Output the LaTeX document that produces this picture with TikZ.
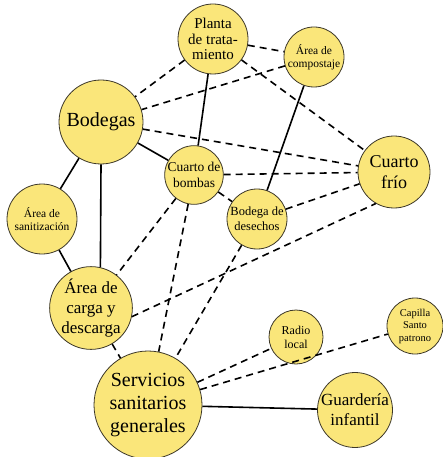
\documentclass[tikz,border=0pt]{standalone}
\usepackage{fontspec}
\setmainfont{Liberation Serif}
\definecolor{circfill}{RGB}{250,230,122}
\definecolor{circline}{RGB}{60,55,40}
\begin{document}
\begin{tikzpicture}[x=1pt,y=-1pt,
  place/.style={circle,draw=circline,line width=0.8pt,fill=circfill,inner sep=0pt,align=center},
  conn/.style={line width=1.6pt,black},
  dconn/.style={conn,dash pattern=on 7pt off 5pt}]
\useasboundingbox (0,0) rectangle (443,457);
% nodes
\node[place,minimum size=70pt,font=\fontsize{15}{15.5}\selectfont] (planta) at (213,39) {Planta\\de trata-\\miento};
\node[place,minimum size=60pt,font=\fontsize{11.5}{13}\selectfont] (compost) at (314,57) {Área de\\compostaje};
\node[place,minimum size=84pt,font=\fontsize{20}{22}\selectfont] (bodegas) at (101,122) {Bodegas};
\node[place,minimum size=57pt,font=\fontsize{13.5}{16}\selectfont] (bombas) at (194,175) {Cuarto de\\bombas};
\node[place,minimum size=72pt,font=\fontsize{18}{21}\selectfont] (frio) at (394,172) {Cuarto\\frío};
\node[place,minimum size=60pt,font=\fontsize{12.5}{15}\selectfont] (desechos) at (257,219) {Bodega de\\desechos};
\node[place,minimum size=70pt,font=\fontsize{11.5}{13.5}\selectfont] (sanit) at (42,219) {Área de\\sanitización};
\node[place,minimum size=82pt,font=\fontsize{17}{20}\selectfont] (carga) at (91,308) {Área de\\carga y\\descarga};
\node[place,minimum size=108pt,font=\fontsize{20}{23}\selectfont] (serv) at (148,405) {Servicios\\sanitarios\\generales};
\node[place,minimum size=54pt,font=\fontsize{12}{14}\selectfont] (radio) at (296,337) {Radio\\local};
\node[place,minimum size=56pt,font=\fontsize{10.5}{12.5}\selectfont] (capilla) at (415,326) {Capilla\\Santo\\patrono};
\node[place,minimum size=72pt,font=\fontsize{17}{20}\selectfont] (guard) at (355,410) {Guardería\\infantil};
% solid connectors
\draw[conn] (planta) -- (bombas);
\draw[conn] (compost) -- (desechos);
\draw[conn] (bodegas) -- (bombas);
\draw[conn] (bodegas) -- (sanit);
\draw[conn] (bodegas.-90) -- (carga.77);
\draw[conn] (sanit) -- (carga);
\draw[conn] (serv) -- (guard);
% dashed connectors
\draw[dconn] (planta) -- (compost);
\draw[dconn] (planta) -- (bodegas);
\draw[dconn] (planta) -- (frio);
\draw[dconn] (compost) -- (bodegas);
\draw[dconn] (bodegas) -- (frio);
\draw[dconn] (bombas) -- (frio);
\draw[dconn] (bombas) -- (desechos);
\draw[dconn] (desechos) -- (frio);
\draw[dconn] (carga.-12) -- (frio.240);
\draw[dconn] (bombas) -- (carga);
\draw[dconn] (bombas) -- (serv);
\draw[dconn] (desechos) -- (serv);
\draw[dconn] (carga) -- (serv);
\draw[dconn] (serv) -- (radio);
\draw[dconn] (serv) -- (capilla);
\end{tikzpicture}
\end{document}
